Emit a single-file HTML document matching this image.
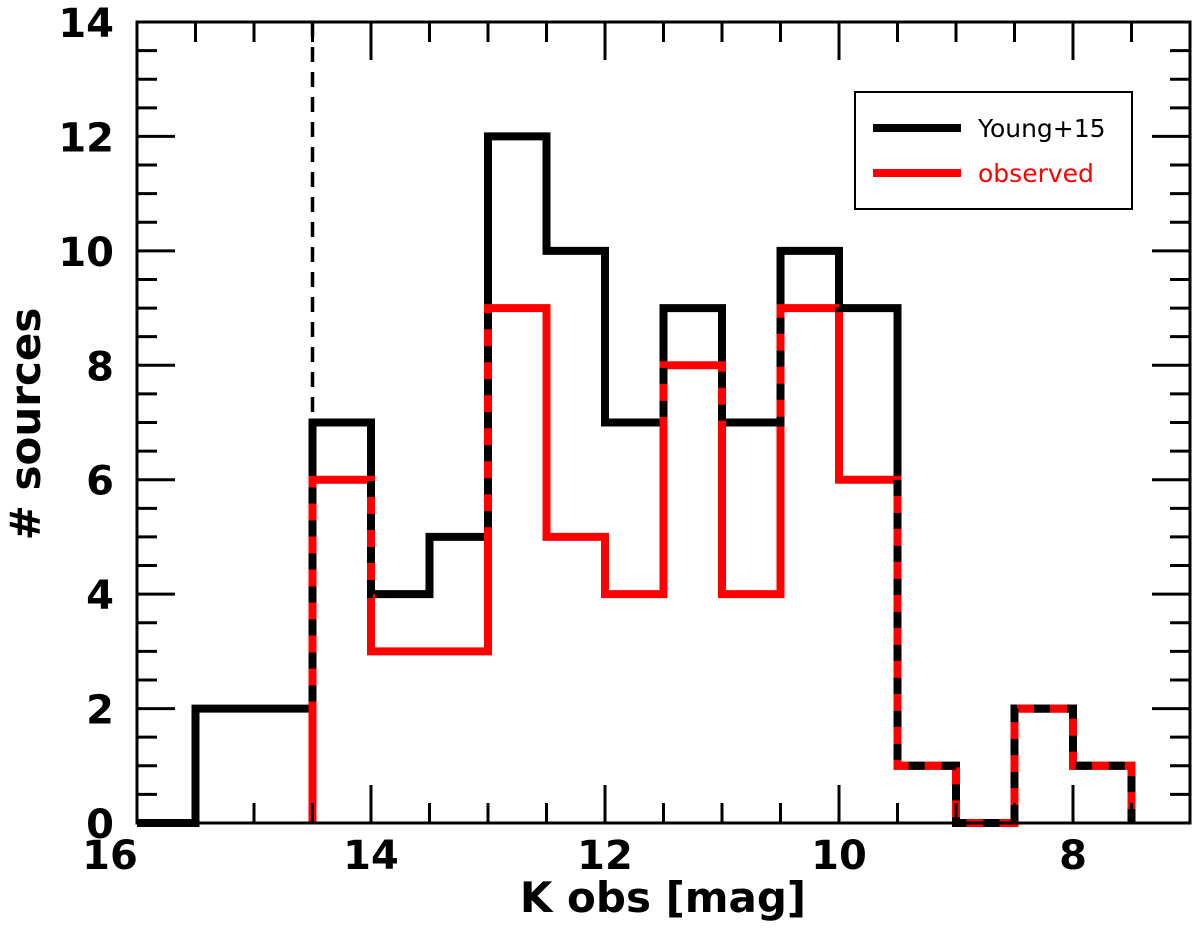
<!DOCTYPE html>
<html><head><meta charset="utf-8"><style>
html,body{margin:0;padding:0;background:#fff;}
svg{display:block;font-family:"DejaVu Sans","Liberation Sans",sans-serif;}
</style></head><body>
<svg id="chart" width="1200" height="928" viewBox="0 0 1200 928">
<defs><mask id="redmask" maskUnits="userSpaceOnUse" x="0" y="0" width="1200" height="928"><path id="maskpath" fill="none" stroke="#fff" stroke-width="9"/></mask></defs>
<g id="plot"></g>
<g id="axes"></g>
<g>
<rect x="855" y="92" width="277" height="117" fill="#fff" stroke="#000" stroke-width="2"/>
<line x1="873" y1="128" x2="961" y2="128" stroke="#000" stroke-width="8"/>
<text x="978" y="137" font-size="25" fill="#000">Young+15</text>
<line x1="873" y1="173" x2="961" y2="173" stroke="#f00" stroke-width="8"/>
<text x="978" y="182" font-size="25" fill="#f00">observed</text>
</g>
<text x="663" y="912" font-size="42" font-weight="bold" text-anchor="middle">K obs [mag]</text>
<text transform="translate(40,424) rotate(-90)" font-size="42" font-weight="bold" text-anchor="middle"># sources</text>
</svg>
<script>
const binEdges = [16,15.5,15,14.5,14,13.5,13,12.5,12,11.5,11,10.5,10,9.5,9,8.5,8,7.5];
const youngCounts = [0,2,2,7,4,5,12,10,7,9,7,10,9,1,0,2,1];
const observedCounts = [0,0,0,6,3,3,9,5,4,8,4,9,6,1,0,2,1];
const xTicks = [16,14,12,10,8];
const yTicks = [0,2,4,6,8,10,12,14];
const cutoff = 14.5;

const L=137,R=1190,T=22,B=823;
const X0=16,X1=7,Y0=0,Y1=14;
const sx=v=>L+(X0-v)/(X0-X1)*(R-L);
const sy=v=>B-(v-Y0)/(Y1-Y0)*(B-T);
const NS="http://www.w3.org/2000/svg";
const plot=document.getElementById('plot'), axes=document.getElementById('axes');
function mk(tag,parent){const e=document.createElementNS(NS,tag);parent.appendChild(e);return e;}

function stepPath(counts,startAtZero){
  let d='';let started=false;
  for(let i=0;i<counts.length;i++){
    const c=counts[i];
    if(!started){ if(c===0 && !startAtZero) continue; d+='M'+sx(binEdges[i])+','+sy(0)+' L'+sx(binEdges[i])+','+sy(c); started=true; }
    else d+=' L'+sx(binEdges[i])+','+sy(c);
    d+=' L'+sx(binEdges[i+1])+','+sy(c);
  }
  d+=' L'+sx(binEdges[binEdges.length-1])+','+sy(0);
  return d;
}
const dY=stepPath(youngCounts,true), dO=stepPath(observedCounts,false);
document.getElementById('maskpath').setAttribute('d',dO);

const cl=mk('line',plot);
cl.setAttribute('x1',sx(cutoff));cl.setAttribute('x2',sx(cutoff));cl.setAttribute('y1',T);cl.setAttribute('y2',sy(youngCounts[3]));
cl.setAttribute('stroke','#000');cl.setAttribute('stroke-width','3.5');cl.setAttribute('stroke-dasharray','15,10');



const py=mk('path',plot);
py.setAttribute('d',dY);py.setAttribute('fill','none');py.setAttribute('stroke','#000');py.setAttribute('stroke-width','8');


const po=mk('path',plot);
po.setAttribute('d',dO);po.setAttribute('fill','none');po.setAttribute('stroke','#f00');po.setAttribute('stroke-width','8');


const pd=mk('path',plot);
pd.setAttribute('d',dY);pd.setAttribute('fill','none');pd.setAttribute('stroke','#000');pd.setAttribute('stroke-width','8');pd.setAttribute('stroke-dasharray','16,17');pd.setAttribute('mask','url(#redmask)');



const fr=mk('rect',axes);
fr.setAttribute('x',L);fr.setAttribute('y',T);fr.setAttribute('width',R-L);fr.setAttribute('height',B-T);
fr.setAttribute('fill','none');fr.setAttribute('stroke','#000');fr.setAttribute('stroke-width','3');



function tick(x1,y1,x2,y2){const t=mk('line',axes);t.setAttribute('x1',x1);t.setAttribute('y1',y1);t.setAttribute('x2',x2);t.setAttribute('y2',y2);t.setAttribute('stroke','#000');t.setAttribute('stroke-width','3');

}
for(let v=16;v>=7;v-=0.5){const major=xTicks.includes(v);const len=major?38:20;const x=sx(v);tick(x,B,x,B-len);tick(x,T,x,T+len);}
for(let v=0;v<=14;v+=0.5){const major=yTicks.includes(v);const len=major?38:20;const y=sy(v);tick(L,y,L+len,y);tick(R,y,R-len,y);}
xTicks.forEach(v=>{const t=mk('text',axes);t.setAttribute('x',v===16?sx(v)-27:sx(v));t.setAttribute('y',869);t.setAttribute('text-anchor','middle');t.setAttribute('font-size','40');t.setAttribute('font-weight','bold');t.textContent=v;

});
yTicks.forEach(v=>{const t=mk('text',axes);t.setAttribute('x',114);t.setAttribute('y',sy(v)+15);t.setAttribute('text-anchor','end');t.setAttribute('font-size','40');t.setAttribute('font-weight','bold');t.textContent=v;

});
</script>
</body></html>
